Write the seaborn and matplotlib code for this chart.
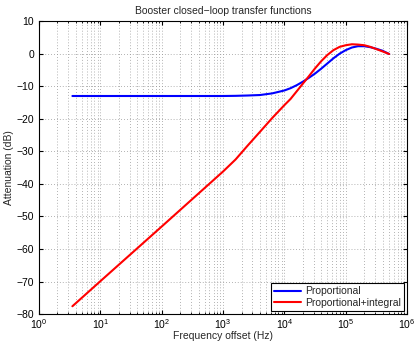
import matplotlib
matplotlib.use("Agg")
import matplotlib.pyplot as plt
import seaborn as sns
import pandas as pd
import numpy as np
from matplotlib.ticker import LogLocator, NullFormatter, FixedLocator

sns.set_style("ticks")
plt.rcParams['font.family'] = ['Liberation Sans', 'DejaVu Sans']
plt.rcParams['mathtext.fontset'] = 'custom'
plt.rcParams['mathtext.rm'] = 'Liberation Sans'
plt.rcParams['mathtext.it'] = 'Liberation Sans'

# Data
freq = [3.5, 10, 100, 1000, 1600, 2500, 4000, 6300, 10000, 12600, 15800, 20000,
        25100, 31600, 39800, 50100, 63100, 79400, 100000, 126000, 158000, 200000,
        251000, 316000, 398000, 510000]
prop_db = [-13.0, -13.0, -13.0, -13.0, -12.95, -12.85, -12.7, -12.2, -11.3, -10.6,
           -9.7, -8.6, -7.4, -6.1, -4.6, -3.0, -1.4, 0.0, 1.1, 1.9, 2.3, 2.3, 2.0,
           1.5, 0.9, -0.1]
pi_db = [-77.6, -69.9, -53.1, -36.2, -32.5, -28.3, -24.0, -19.8, -15.8, -13.9,
         -11.6, -9.2, -6.9, -4.5, -2.3, -0.4, 1.1, 2.1, 2.6, 2.9, 2.8, 2.6, 2.1,
         1.4, 0.7, -0.1]

x_ticks = [1, 10, 100, 1000, 10000, 100000, 1000000]
x_tick_labels = ["$10^{0}$", "$10^{1}$", "$10^{2}$", "$10^{3}$", "$10^{4}$",
                 "$10^{5}$", "$10^{6}$"]
y_ticks = [-80, -70, -60, -50, -40, -30, -20, -10, 0, 10]

series_names = ["Proportional", "Proportional+integral"]
colors = ["#0000ff", "#ff0000"]

df = pd.concat([
    pd.DataFrame({"freq": freq, "db": prop_db, "series": series_names[0]}),
    pd.DataFrame({"freq": freq, "db": pi_db, "series": series_names[1]}),
])

fig = plt.figure(figsize=(4.15, 3.41), dpi=100)
ax = fig.add_axes([0.094, 0.079, 0.887, 0.859])

sns.lineplot(data=df, x="freq", y="db", hue="series", palette=colors,
             linewidth=1.5, ax=ax, estimator=None)

ax.set_xscale("log")
ax.set_xlim(1, 1e6)
ax.set_ylim(-80, 10)
ax.set_yticks(y_ticks)
ax.set_xticks(x_ticks)
ax.set_xticklabels(x_tick_labels)
minor = [m * 10 ** e for e in range(0, 6) for m in range(2, 10)]
ax.xaxis.set_minor_locator(FixedLocator(minor))
ax.xaxis.set_minor_formatter(NullFormatter())

grid_ls = (0, (1, 2.5))
ax.grid(True, which="major", linestyle=grid_ls, color="#999999", linewidth=0.6)
ax.grid(True, which="minor", axis="x", linestyle=grid_ls, color="#999999", linewidth=0.6)

ax.tick_params(which="both", direction="in", top=True, right=True, labelsize=7.5,
               colors="black")
ax.tick_params(axis="x", pad=2.5)
ax.tick_params(axis="y", pad=3.5)
ax.tick_params(which="major", length=3)
ax.tick_params(which="minor", length=1.5)
for s in ax.spines.values():
    s.set_linewidth(0.8)
    s.set_color("black")

ax.set_xlabel("Frequency offset (Hz)", fontsize=7.5, labelpad=0)
ax.set_ylabel("Attenuation (dB)", fontsize=7.5, labelpad=2)
ax.set_title("Booster closed\u2212loop transfer functions", fontsize=7.5, pad=5)

leg = ax.legend(loc="lower right", fontsize=7.5, frameon=True, fancybox=False,
                edgecolor="black", framealpha=1, borderpad=0.3, handlelength=2.6,
                labelspacing=0.15, borderaxespad=0.3, handletextpad=0.4)
leg.get_frame().set_linewidth(0.8)
leg.set_title(None)

fig.savefig("out.png", dpi=100)
